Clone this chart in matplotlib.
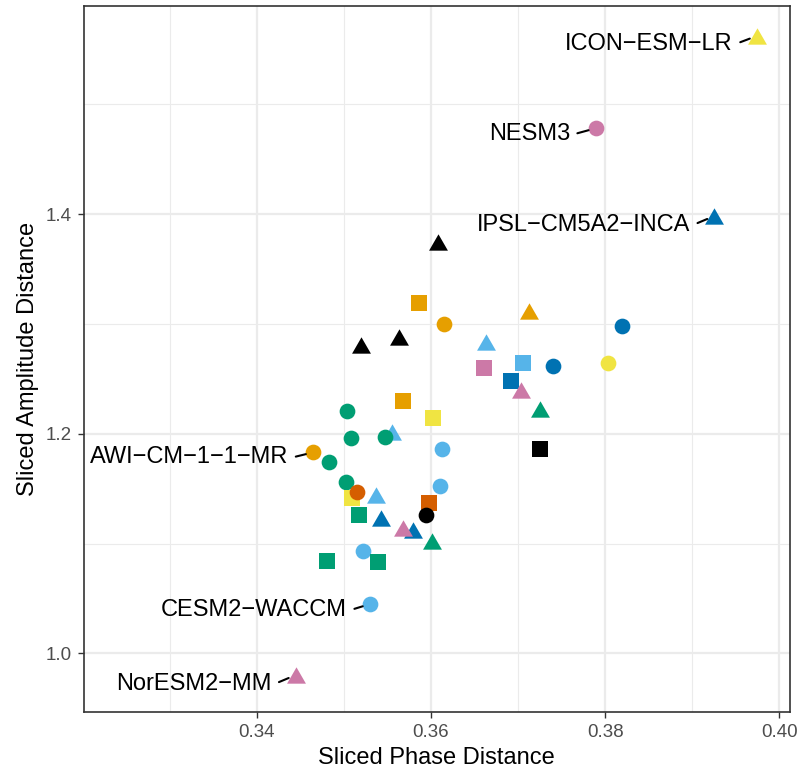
import numpy as np
import matplotlib
matplotlib.use("Agg")
from matplotlib import pyplot as plt
from matplotlib.path import Path

plt.rcParams['font.family'] = ['Liberation Sans', 'DejaVu Sans']

# Okabe-Ito colours used for the model groups
palette = {
    "black": "#000000", "orange": "#E69F00", "skyblue": "#56B4E9",
    "green": "#009E73", "yellow": "#F0E442", "blue": "#0072B2",
    "vermillion": "#D55E00", "purple": "#CC79A7",
}

# Data (draw order matters for overlaps)
phase = [0.39743, 0.37894, 0.39253, 0.34649, 0.35300, 0.34447,
         0.36084, 0.35200, 0.35629, 0.35866, 0.36146, 0.37125,
         0.36631, 0.36612, 0.37060, 0.37401, 0.36922, 0.37030,
         0.37251, 0.35682, 0.35039, 0.36026, 0.38193, 0.38029,
         0.37255, 0.35085, 0.35549, 0.35472, 0.34832, 0.35020,
         0.36126, 0.36103, 0.35223, 0.35096, 0.35147, 0.35365,
         0.35980, 0.35943, 0.35177, 0.35429, 0.35797, 0.35682,
         0.36008, 0.34810, 0.35395]
amplitude = [1.5625, 1.4784, 1.3984, 1.1831, 1.0449, 0.9802,
             1.3750, 1.2809, 1.2885, 1.3189, 1.2998, 1.3122,
             1.2840, 1.2597, 1.2648, 1.2618, 1.2478, 1.2397,
             1.2230, 1.2298, 1.2208, 1.2141, 1.2982, 1.2648,
             1.1859, 1.1960, 1.2015, 1.1974, 1.1740, 1.1564,
             1.1861, 1.1527, 1.0932, 1.1416, 1.1471, 1.1442,
             1.1371, 1.1260, 1.1262, 1.1230, 1.1123, 1.1139,
             1.1023, 1.0841, 1.0829]
group = ["yellow", "purple", "blue", "orange", "skyblue", "purple",
         "black", "black", "black", "orange", "orange", "orange",
         "skyblue", "purple", "skyblue", "blue", "blue", "purple",
         "green", "orange", "green", "yellow", "blue", "yellow",
         "black", "green", "skyblue", "green", "green", "green",
         "skyblue", "skyblue", "skyblue", "yellow", "vermillion", "skyblue",
         "vermillion", "black", "green", "blue", "blue", "purple",
         "green", "green", "green"]
shape = ["tri", "circ", "tri", "circ", "circ", "tri",
         "tri", "tri", "tri", "sq", "circ", "tri",
         "tri", "sq", "sq", "circ", "sq", "tri",
         "tri", "sq", "circ", "sq", "circ", "circ",
         "sq", "circ", "tri", "circ", "circ", "circ",
         "circ", "circ", "circ", "sq", "circ", "tri",
         "sq", "circ", "sq", "tri", "tri", "tri",
         "tri", "sq", "sq"]

labels = ["ICON\u2212ESM\u2212LR", "NESM3", "IPSL\u2212CM5A2\u2212INCA",
          "AWI\u2212CM\u22121\u22121\u2212MR", "CESM2\u2212WACCM", "NorESM2\u2212MM"]
# label offsets in pixels (text right end / baseline relative to point)
label_offsets = [(-24, -14), (-26, -12), (-24, -15), (-25, -11), (-23, -12), (-24, -15)]

# equilateral triangle, bbox centred
tri_path = Path([(0, 1), (-1.1547, -1), (1.1547, -1), (0, 1)],
                [Path.MOVETO, Path.LINETO, Path.LINETO, Path.CLOSEPOLY])
markers = {"circ": ("o", 128), "sq": ("s", 117), "tri": (tri_path, 185)}

fig = plt.figure(figsize=(8.05, 7.72), dpi=100)
ax = fig.add_axes([0.104, 0.0781, 0.8774, 0.9145])

for xi, yi, g, s in zip(phase, amplitude, group, shape):
    m, sz = markers[s]
    ax.scatter(xi, yi, s=sz, marker=m, color=palette[g], linewidths=0, zorder=3)

for i, (lab, off) in enumerate(zip(labels, label_offsets)):
    ax.annotate(lab, xy=(phase[i], amplitude[i]), xytext=off,
                textcoords="offset pixels", ha="right", va="baseline",
                fontsize=17, color="black", zorder=4,
                arrowprops=dict(arrowstyle="-", color="black", lw=1.5,
                                shrinkA=3.5, shrinkB=5.5, relpos=(1, 0.45)))

ax.set_xlim(0.32013, 0.40123)
ax.set_ylim(0.9468, 1.590)
ax.set_xticks([0.34, 0.36, 0.38, 0.40])
ax.set_xticklabels(["0.34", "0.36", "0.38", "0.40"])
ax.set_yticks([1.0, 1.2, 1.4])
ax.set_yticklabels(["1.0", "1.2", "1.4"])
ax.set_xticks([0.33, 0.35, 0.37, 0.39], minor=True)
ax.set_yticks([1.1, 1.3, 1.5], minor=True)

ax.grid(which="major", color="#EBEBEB", linewidth=1.6, zorder=0)
ax.grid(which="minor", color="#EBEBEB", linewidth=0.8, zorder=0)
ax.set_axisbelow(True)

ax.tick_params(which="major", length=4.5, width=1.0, color="#333333",
               labelsize=13.5, labelcolor="#4D4D4D", pad=4)
ax.tick_params(which="minor", length=0)
for sp in ax.spines.values():
    sp.set_color("#333333")
    sp.set_linewidth(1.2)

ax.set_xlabel("Sliced Phase Distance", fontsize=17, labelpad=5)
ax.set_ylabel("Sliced Amplitude Distance", fontsize=17)
ax.yaxis.set_label_coords(-0.064, 0.5)

fig.savefig("out.png", dpi=100)
